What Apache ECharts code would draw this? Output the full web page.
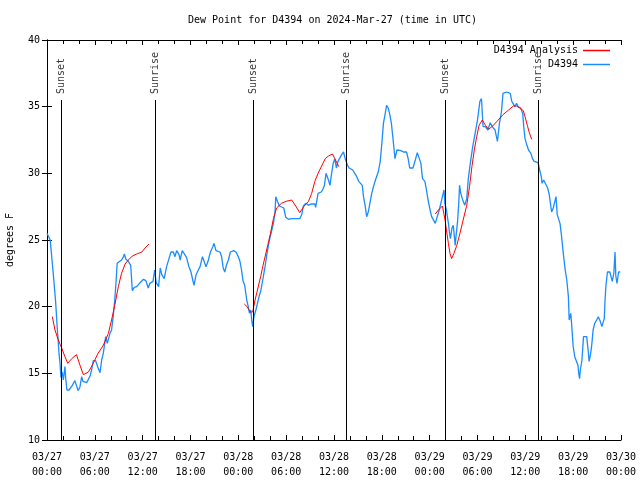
<!DOCTYPE html>
<html>
<head>
<meta charset="utf-8">
<script src="https://cdn.jsdelivr.net/npm/echarts@6/dist/echarts.min.js"></script>
<style>html,body{margin:0;padding:0;background:#fff}#c{width:640px;height:480px}</style>
</head>
<body>
<div id="c"></div>
<script>
// Observations (hours since 03/27 00:00 UTC, dew point °F)
var obsHours = [0.0,0.17,0.4,0.67,0.88,1.09,1.3,1.42,1.5,1.63,1.75,1.9,2.05,2.25,2.35,2.5,2.76,3.0,3.18,3.5,3.7,3.9,4.14,4.35,4.5,4.7,4.98,5.4,5.6,5.8,6.1,6.35,6.65,6.86,7.06,7.36,7.56,7.9,8.1,8.3,8.5,8.65,8.8,9.0,9.35,9.6,9.7,9.9,10.2,10.5,10.7,10.95,11.25,11.67,12.1,12.4,12.7,12.9,13.3,13.5,13.7,14.0,14.2,14.4,14.7,15.0,15.3,15.55,15.85,16.05,16.27,16.56,16.7,16.97,17.2,17.5,17.8,18.06,18.28,18.44,18.7,18.98,19.2,19.5,19.7,19.94,20.2,20.5,20.8,20.95,21.2,21.7,21.9,22.1,22.3,22.5,22.75,23.0,23.4,23.7,24.0,24.2,24.4,24.6,24.8,25.05,25.25,25.4,25.55,25.7,25.8,25.96,26.2,26.4,26.6,26.84,27.06,27.35,27.6,27.9,28.2,28.4,28.6,28.7,28.9,29.15,29.4,29.7,29.95,30.3,30.7,31.3,31.7,31.95,32.15,32.5,32.8,33.1,33.6,33.7,34.0,34.4,34.6,34.8,35.0,35.2,35.3,35.5,35.7,35.9,36.1,36.3,36.5,36.75,36.96,37.2,37.4,37.7,37.9,38.35,38.6,38.85,39.1,39.35,39.55,39.7,39.9,40.1,40.3,40.5,40.7,40.95,41.2,41.55,41.8,42.0,42.2,42.4,42.6,42.8,43.0,43.2,43.4,43.65,43.9,44.1,44.4,44.7,45.1,45.3,45.5,45.9,46.2,46.45,46.7,46.9,47.1,47.4,47.6,47.8,48.05,48.25,48.5,48.7,48.95,49.2,49.4,49.6,49.8,49.9,50.1,50.35,50.5,50.6,50.8,50.96,51.2,51.3,51.5,51.65,51.75,51.9,52.15,52.4,52.65,52.85,53.06,53.4,53.7,54.0,54.3,54.5,54.6,54.7,55.0,55.3,55.6,55.85,56.2,56.5,56.75,57.0,57.2,57.45,57.65,57.9,58.1,58.3,58.5,58.7,58.9,59.1,59.4,59.67,59.8,59.96,60.2,60.4,60.7,60.9,61.1,61.6,61.8,62.0,62.1,62.3,62.5,62.8,63.0,63.2,63.3,63.5,63.7,63.85,64.0,64.2,64.35,64.55,64.76,65.0,65.2,65.4,65.5,65.7,65.8,66.0,66.2,66.4,66.6,66.7,66.8,66.9,67.1,67.3,67.5,67.7,67.9,68.0,68.2,68.35,68.5,68.7,68.95,69.15,69.4,69.6,69.8,69.9,70.0,70.1,70.3,70.6,70.8,70.9,71.1,71.25,71.35,71.5,71.7,71.9];
var obsDew = [25.5,25.45,25.0,23.25,21.8,20.3,18.25,17.3,16.5,15.8,14.7,15.1,14.5,15.5,14.6,13.75,13.75,13.9,14.1,14.45,14.35,13.7,14.0,14.75,14.4,14.25,14.3,14.8,15.25,15.95,15.95,15.5,15.05,16.0,16.5,17.75,17.25,18.0,18.25,19.25,20.5,21.75,23.25,23.4,23.5,23.75,23.95,23.55,23.4,23.1,21.2,21.45,21.5,21.8,22.05,21.95,21.4,21.75,21.9,22.75,21.8,21.5,22.9,22.4,22.1,23.0,23.6,24.1,24.1,23.75,24.2,23.9,23.5,24.2,24.1,23.7,23.0,22.6,22.0,21.6,22.4,22.75,23.0,23.75,23.4,23.0,23.4,24.1,24.5,24.75,24.2,24.1,23.75,22.9,22.6,23.1,23.5,24.1,24.2,24.1,23.75,23.4,22.75,21.9,21.6,20.5,20.0,19.5,19.75,18.9,18.5,19.25,19.75,20.25,20.75,21.25,22.0,23.0,24.0,25.0,25.75,26.25,27.1,28.25,27.9,27.55,27.5,27.4,26.7,26.55,26.6,26.6,26.6,26.9,27.55,27.75,27.6,27.7,27.7,27.45,28.5,28.6,28.8,29.1,30.0,30.05,29.5,29.1,30.0,30.75,31.1,30.4,30.9,31.0,31.4,31.6,31.1,30.6,30.4,30.25,30.0,29.75,29.4,29.4,29.1,28.25,27.6,26.75,27.1,27.75,28.4,29.0,29.5,30.1,30.9,32.25,33.75,34.4,35.1,34.9,34.4,33.75,32.6,31.1,31.75,31.9,31.7,31.6,31.6,31.1,30.4,30.4,31.0,31.55,31.5,30.75,29.6,29.4,28.75,28.0,27.25,26.75,26.9,26.25,26.4,27.25,27.75,28.25,28.75,27.75,27.25,26.25,25.5,25.1,25.9,26.1,24.6,25.25,26.4,27.75,29.1,28.5,28.0,27.6,28.1,29.6,30.6,32.0,33.0,34.0,35.4,35.6,34.5,33.5,33.5,33.25,33.8,33.5,33.25,32.4,33.75,34.6,36.0,35.9,36.1,36.25,36.0,35.4,35.25,35.0,35.25,35.0,34.9,34.5,33.5,32.6,32.1,31.75,31.5,31.1,30.9,30.8,30.25,29.75,29.25,29.5,29.6,28.9,28.4,27.5,27.1,27.4,27.9,28.25,26.9,26.75,26.25,25.25,24.0,22.75,22.0,20.75,19.0,19.5,18.75,17.0,16.25,16.1,15.6,15.0,14.6,15.25,16.0,17.75,17.9,17.75,16.6,15.9,16.5,17.25,18.25,18.75,19.0,19.25,18.9,18.5,18.5,19.1,20.5,21.5,22.6,22.6,22.6,21.9,22.5,24.1,22.3,21.75,22.6,22.6];

// Analysis (null separates segments)
var anaHours = [0.67,1.0,1.42,1.84,2.25,2.6,3.1,3.7,4.14,4.56,5.2,5.8,6.4,7.06,7.7,8.1,8.5,8.95,9.35,9.8,10.2,10.7,11.25,11.9,12.3,12.8,
  18,
  24.75,25.1,25.5,25.8,26.1,26.4,26.8,27.1,27.55,28.0,28.4,28.8,29.4,30.0,30.7,31.2,31.7,32.2,32.8,33.2,33.6,34.0,34.45,34.9,35.3,35.8,36.1,36.4,36.6,
  42,
  48.7,49.1,49.6,49.8,49.96,50.1,50.35,50.55,50.75,51.05,51.4,51.8,52.2,52.65,53.0,53.3,53.6,53.9,54.2,54.6,55.0,55.4,55.9,56.6,57.2,57.9,58.5,58.9,59.3,59.75,59.96,60.25,60.5,60.8];
var anaDew = [19.25,18.25,17.5,16.9,16.25,15.75,16.1,16.4,15.6,14.9,15.1,15.75,16.5,17.1,18.0,19.0,20.1,21.5,22.5,23.2,23.5,23.8,23.95,24.1,24.4,24.7,
  null,
  20.2,20.0,19.6,19.6,20.5,21.25,22.25,23.1,24.25,25.4,26.6,27.4,27.75,27.9,28.0,27.55,27.05,27.5,27.9,28.5,29.4,30.0,30.55,31.1,31.3,31.45,31.1,30.75,30.5,
  null,
  26.95,27.25,27.55,27.6,26.4,25.75,24.75,24.0,23.6,24.0,24.6,25.5,26.5,27.6,29.0,30.5,31.75,32.75,33.6,34.0,33.6,33.3,33.55,34.0,34.4,34.75,35.05,35.05,34.9,34.7,34.25,33.6,33.05,32.55];

// Sun events
var sunNames = ['Sunset','Sunrise','Sunset','Sunrise','Sunset','Sunrise'];
var sunHours = [1.85,13.6,25.9,37.55,49.95,61.65];
var sunLineTop = 35.5;

// Tick labels every 6 hours
var xTickLabels = ['03/27\n00:00','03/27\n06:00','03/27\n12:00','03/27\n18:00','03/28\n00:00','03/28\n06:00','03/28\n12:00','03/28\n18:00','03/29\n00:00','03/29\n06:00','03/29\n12:00','03/29\n18:00','03/30\n00:00'];

var FONT = 'DejaVu Sans Mono';
var txt = {fontFamily: FONT, fontSize: 10, color: '#000'};

var obsData = obsHours.map(function(h,i){return [h, obsDew[i]];});
var anaData = anaHours.map(function(h,i){return [h, anaDew[i]];});
var sunData = sunHours.map(function(h,i){return {name: sunNames[i], value: [h, sunLineTop]};});
var sunLines = sunHours.map(function(h){return [{coord:[h,10]},{coord:[h,sunLineTop]}];});

var axisLineStyle = {show: true, lineStyle: {color: '#000', width: 1}};

var chart = echarts.init(document.getElementById('c'), null, {renderer: 'canvas'});
chart.setOption({
  animation: false,
  backgroundColor: '#fff',
  title: {
    text: 'Dew Point for D4394 on 2024-Mar-27 (time in UTC)',
    left: 188, top: 15, padding: 0,
    textStyle: {fontFamily: FONT, fontSize: 10, fontWeight: 'normal', color: '#000'}
  },
  legend: {
    data: [{name: 'D4394 Analysis', icon: 'rect'}, {name: 'D4394', icon: 'rect'}],
    orient: 'vertical', align: 'right',
    right: 30, top: 45, padding: 0,
    itemWidth: 27, itemHeight: 1.5, itemGap: 3,
    textStyle: {fontFamily: FONT, fontSize: 10, color: '#000', lineHeight: 11},
    inactiveColor: '#ccc'
  },
  grid: {left: 47, right: 19, top: 40, bottom: 40, containLabel: false, outerBoundsMode: 'none'},
  xAxis: [{
    type: 'value', min: 0, max: 72, interval: 6, position: 'bottom',
    axisLine: axisLineStyle,
    axisTick: {show: true, inside: true, length: 5, lineStyle: {color: '#000'}},
    minorTick: {show: true, splitNumber: 3, length: 4, lineStyle: {color: '#000'}},
    splitLine: {show: false},
    axisLabel: Object.assign({margin: 10, lineHeight: 15, formatter: function(v){return xTickLabels[Math.round(v/6)] || '';}}, txt)
  },{
    type: 'value', min: 0, max: 72, interval: 6, position: 'top',
    axisLine: axisLineStyle,
    axisTick: {show: true, inside: true, length: 5, lineStyle: {color: '#000'}},
    minorTick: {show: true, splitNumber: 3, length: 4, lineStyle: {color: '#000'}},
    splitLine: {show: false},
    axisLabel: {show: false}
  }],
  yAxis: [{
    type: 'value', min: 10, max: 40, interval: 5, position: 'left',
    name: 'degrees F', nameLocation: 'middle', nameGap: 32, nameRotate: 90,
    nameTextStyle: {fontFamily: FONT, fontSize: 10, color: '#000'},
    axisLine: axisLineStyle,
    axisTick: {show: true, inside: true, length: 5, lineStyle: {color: '#000'}},
    splitLine: {show: false},
    axisLabel: Object.assign({margin: 7}, txt)
  },{
    type: 'value', min: 10, max: 40, interval: 5, position: 'right',
    axisLine: axisLineStyle,
    axisTick: {show: true, inside: true, length: 5, lineStyle: {color: '#000'}},
    splitLine: {show: false},
    axisLabel: {show: false}
  }],
  series: [{
    name: 'sun', type: 'scatter', data: sunData, symbolSize: 0, silent: true,
    label: {show: true, formatter: '{b}', position: 'top', distance: 6, rotate: 90, align: 'left', verticalAlign: 'middle',
      fontFamily: FONT, fontSize: 10, color: '#000'},
    markLine: {silent: true, symbol: 'none', animation: false, label: {show: false},
      lineStyle: {color: '#000', width: 1, type: 'solid'}, emphasis: {disabled: true}, data: sunLines}
  },{
    name: 'D4394 Analysis', type: 'line', data: anaData, showSymbol: false, symbol: 'none',
    connectNulls: false, lineStyle: {color: '#ff0000', width: 1}, itemStyle: {color: '#ff0000'}, z: 3
  },{
    name: 'D4394', type: 'line', data: obsData, showSymbol: false, symbol: 'none',
    lineStyle: {color: '#1a8cff', width: 1.3}, itemStyle: {color: '#1a8cff'}, z: 2
  }]
});
</script>
</body>
</html>
